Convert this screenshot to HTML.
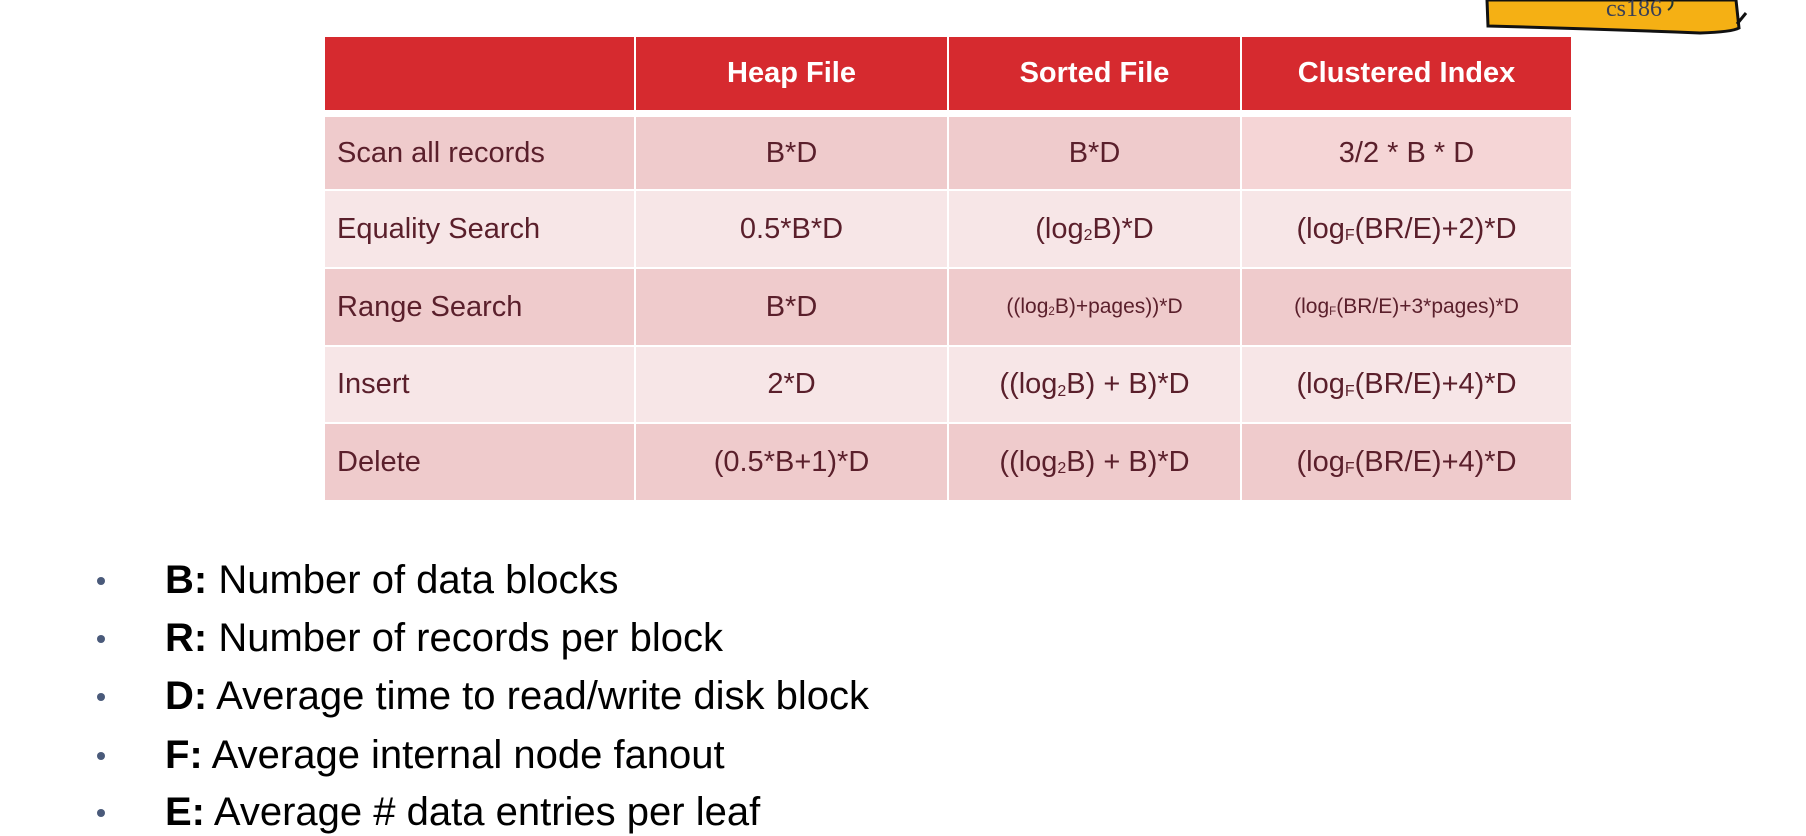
<!DOCTYPE html>
<html><head><meta charset="utf-8"><style>
body{margin:0;width:1806px;height:836px;background:#fff;position:relative;overflow:hidden;font-family:"Liberation Sans",sans-serif}
.c{position:absolute;display:flex;align-items:center;justify-content:center;color:#5a1f2b;font-size:29px;box-sizing:border-box;white-space:nowrap}
.l{justify-content:flex-start;padding-left:12px}
.h{background:#d62a2f;color:#fff;font-weight:bold;font-size:29px}
.o{background:#efcbcc}.e{background:#f7e6e7}
.s{font-size:21px}
.sb{font-size:0.55em;position:relative;top:0.45em}
.b{position:absolute;left:165px;font-size:40px;color:#000;line-height:1}
.d{position:absolute;left:97px;width:8px;height:8px;border-radius:50%;background:#4a5a7a}
</style></head><body>
<svg style="position:absolute;left:0;top:0" width="1806" height="60">
<path d="M1487,0 L1488,26 Q1600,29 1700,33 Q1732,32 1739,28 L1736,0 Z" fill="#f5b014" stroke="#111" stroke-width="3"/>
<path d="M1737,24 L1746,13" stroke="#111" stroke-width="3"/>
<path d="M1668,10 Q1674,6 1672,0" stroke="#233" stroke-width="2" fill="none"/>
<text x="1606" y="16" font-family="Liberation Serif, serif" font-size="24" fill="#3a3f55">cs186</text>
</svg>
<div class="c h" style="left:325px;top:37px;width:309px;height:73px"></div>
<div class="c h" style="left:636px;top:37px;width:311px;height:73px">Heap File</div>
<div class="c h" style="left:949px;top:37px;width:291px;height:73px">Sorted File</div>
<div class="c h" style="left:1242px;top:37px;width:329px;height:73px">Clustered Index</div>
<div class="c o l" style="left:325px;top:117px;width:309px;height:72px">Scan all records</div>
<div class="c o" style="left:636px;top:117px;width:311px;height:72px">B*D</div>
<div class="c o" style="left:949px;top:117px;width:291px;height:72px">B*D</div>
<div class="c" style="background:#f5d5d6;left:1242px;top:117px;width:329px;height:72px">3/2 * B * D</div>
<div class="c e l" style="left:325px;top:191px;width:309px;height:76px">Equality Search</div>
<div class="c e" style="left:636px;top:191px;width:311px;height:76px">0.5*B*D</div>
<div class="c e" style="left:949px;top:191px;width:291px;height:76px">(log<span class="sb">2</span>B)*D</div>
<div class="c e" style="left:1242px;top:191px;width:329px;height:76px">(log<span class="sb">F</span>(BR/E)+2)*D</div>
<div class="c o l" style="left:325px;top:269px;width:309px;height:76px">Range Search</div>
<div class="c o" style="left:636px;top:269px;width:311px;height:76px">B*D</div>
<div class="c o s" style="left:949px;top:269px;width:291px;height:76px">((log<span class="sb">2</span>B)+pages))*D</div>
<div class="c o s" style="left:1242px;top:269px;width:329px;height:76px">(log<span class="sb">F</span>(BR/E)+3*pages)*D</div>
<div class="c e l" style="left:325px;top:347px;width:309px;height:75px">Insert</div>
<div class="c e" style="left:636px;top:347px;width:311px;height:75px">2*D</div>
<div class="c e" style="left:949px;top:347px;width:291px;height:75px">((log<span class="sb">2</span>B) + B)*D</div>
<div class="c e" style="left:1242px;top:347px;width:329px;height:75px">(log<span class="sb">F</span>(BR/E)+4)*D</div>
<div class="c o l" style="left:325px;top:424px;width:309px;height:76px">Delete</div>
<div class="c o" style="left:636px;top:424px;width:311px;height:76px">(0.5*B+1)*D</div>
<div class="c o" style="left:949px;top:424px;width:291px;height:76px">((log<span class="sb">2</span>B) + B)*D</div>
<div class="c o" style="left:1242px;top:424px;width:329px;height:76px">(log<span class="sb">F</span>(BR/E)+4)*D</div>
<div class="d" style="top:577px"></div><div class="b" style="top:560px"><b>B:</b> Number of data blocks</div>
<div class="d" style="top:635px"></div><div class="b" style="top:618px"><b>R:</b> Number of records per block</div>
<div class="d" style="top:693px"></div><div class="b" style="top:676px"><b>D:</b> Average time to read/write disk block</div>
<div class="d" style="top:752px"></div><div class="b" style="top:735px"><b>F:</b> Average internal node fanout</div>
<div class="d" style="top:809px"></div><div class="b" style="top:792px"><b>E:</b> Average # data entries per leaf</div>
</body></html>
